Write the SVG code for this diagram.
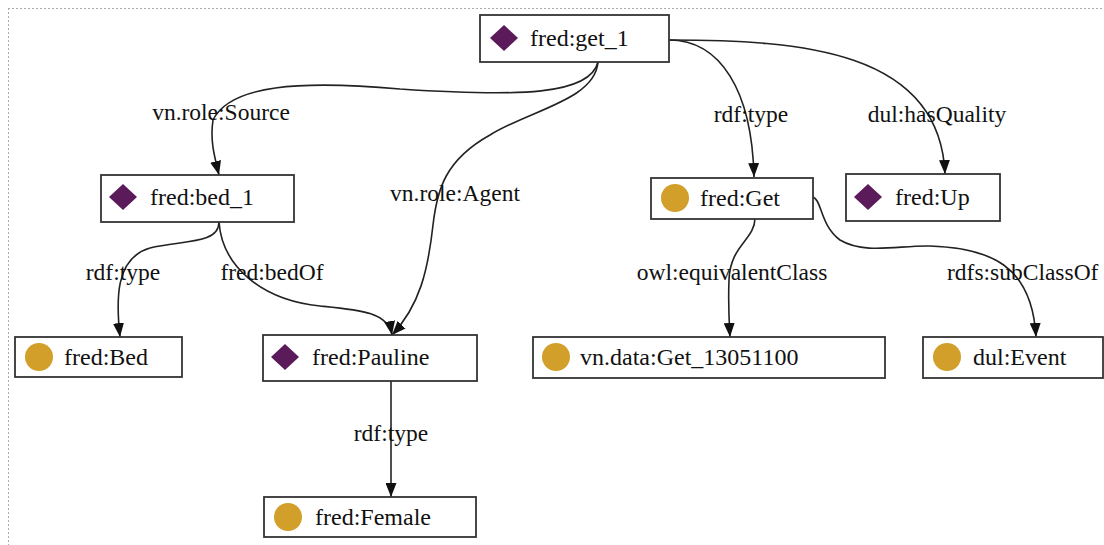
<svg xmlns="http://www.w3.org/2000/svg" width="1104" height="545" viewBox="0 0 1104 545">
<style>
.box{fill:#fff;stroke:#333;stroke-width:1.8}
.nt{font-family:"Liberation Serif","Times New Roman",serif;font-size:24px;fill:#111}
.lb{font-family:"Liberation Serif","Times New Roman",serif;font-size:23.5px;fill:#111;text-anchor:middle}
.edge{fill:none;stroke:#222;stroke-width:1.6;marker-end:url(#arrh)}
.ind{fill:#5b1a5a}
.cls{fill:#d19f2a}
</style>
<defs>
<marker id="arrh" markerWidth="14" markerHeight="11" refX="14" refY="5.5" orient="auto" markerUnits="userSpaceOnUse">
<path d="M0,0 L14,5.5 L0,11 Z" fill="#111"/>
</marker>
</defs>
<rect width="1104" height="545" fill="#fff"/>
<path d="M8,8.5 H1104 M8.5,8 V545" stroke="#aaa" stroke-width="1" stroke-dasharray="2,2" fill="none"/>
<g id="connectors">
<path class="edge" d="M598,62 C590,95 520,97 400,89 C300,80 230,85 213,120 C210,140 214,155 219,175"/>
<path class="edge" d="M598,62 C595,100 530,110 490,135 C445,160 437,190 433,225 C428,270 420,305 392,335"/>
<path class="edge" d="M669,40 C720,40 752,90 754,177"/>
<path class="edge" d="M669,40 C800,40 940,50 945,174"/>
<path class="edge" d="M219,222 C219,245 180,240 150,248 C115,258 116,300 120,337"/>
<path class="edge" d="M219,222 C222,265 260,300 320,306 C360,310 388,312 392,335"/>
<path class="edge" d="M755,218 C755,240 730,245 729,280 C728,305 729,320 730,337"/>
<path class="edge" d="M813,197 C822,200 820,225 840,240 C865,255 900,245 930,246 C990,248 1032,265 1036,337"/>
<path class="edge" d="M391,381 V497"/>
<text class="lb" x="221" y="120">vn.role:Source</text>
<text class="lb" x="455" y="201">vn.role:Agent</text>
<text class="lb" x="751" y="122">rdf:type</text>
<text class="lb" x="937" y="122">dul:hasQuality</text>
<text class="lb" x="123" y="280">rdf:type</text>
<text class="lb" x="272" y="280">fred:bedOf</text>
<text class="lb" x="732" y="280">owl:equivalentClass</text>
<text class="lb" x="947" y="280" style="text-anchor:start">rdfs:subClassOf</text>
<text class="lb" x="391" y="441">rdf:type</text>
</g>
<g id="n-get1">
<rect class="box" x="480" y="15" width="189" height="47"/>
<path class="ind" d="M504,25 L518,38 L504,51 L490,38 Z"/>
<text class="nt" x="530" y="46">fred:get_1</text>
</g>
<g id="n-bed1">
<rect class="box" x="101" y="175" width="193" height="47"/>
<path class="ind" d="M123,184 L137,197 L123,210 L109,197 Z"/>
<text class="nt" x="150" y="205">fred:bed_1</text>
</g>
<g id="n-Get">
<rect class="box" x="651" y="178" width="162" height="41"/>
<circle class="cls" cx="675" cy="198" r="14"/>
<text class="nt" x="700" y="206">fred:Get</text>
</g>
<g id="n-Up">
<rect class="box" x="846" y="174" width="154" height="47"/>
<path class="ind" d="M868,184 L882,197 L868,210 L854,197 Z"/>
<text class="nt" x="895" y="205">fred:Up</text>
</g>
<g id="n-Bed">
<rect class="box" x="15" y="337" width="167" height="40"/>
<circle class="cls" cx="39" cy="357" r="14"/>
<text class="nt" x="64" y="365">fred:Bed</text>
</g>
<g id="n-Pauline">
<rect class="box" x="263" y="335" width="214" height="46"/>
<path class="ind" d="M285,344 L299,357 L285,370 L271,357 Z"/>
<text class="nt" x="312" y="365">fred:Pauline</text>
</g>
<g id="n-vndata">
<rect class="box" x="533" y="337" width="352" height="41"/>
<circle class="cls" cx="556" cy="357" r="14"/>
<text class="nt" x="580" y="365">vn.data:Get_13051100</text>
</g>
<g id="n-Event">
<rect class="box" x="923" y="337" width="180" height="41"/>
<circle class="cls" cx="947" cy="357" r="14"/>
<text class="nt" x="973" y="365">dul:Event</text>
</g>
<g id="n-Female">
<rect class="box" x="264" y="497" width="212" height="40"/>
<circle class="cls" cx="288" cy="517" r="14"/>
<text class="nt" x="315" y="525">fred:Female</text>
</g>
</svg>
